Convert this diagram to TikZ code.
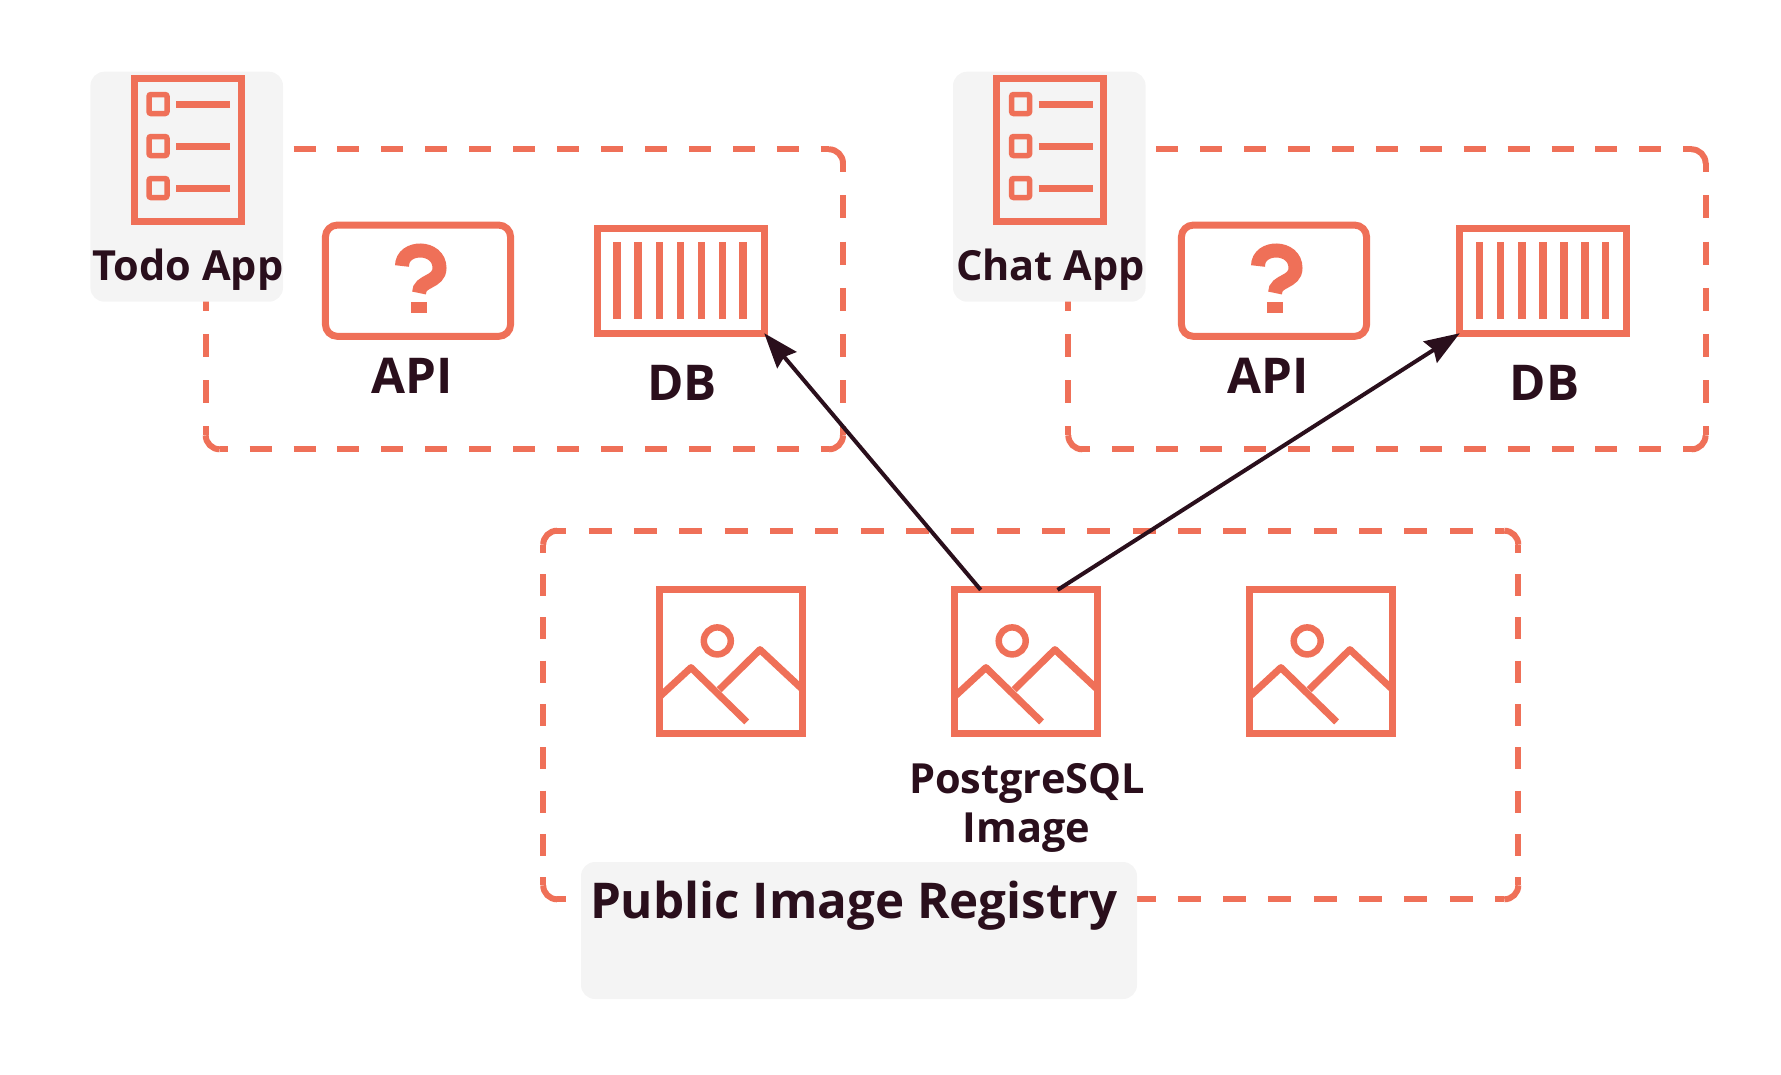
\documentclass[tikz,border=0pt]{standalone}
\usepackage{fontspec}
\setmainfont{Open Sans}
\usepackage{tikz}
\usetikzlibrary{arrows.meta, positioning}
\definecolor{iconorange}{HTML}{EF7058}
\definecolor{darkplum}{HTML}{2A0F1C}
\definecolor{panelgray}{HTML}{F4F4F4}
\tikzset{
    zoneline/.style={draw=iconorange, line width=6pt},
    iconline/.style={draw=iconorange, line width=7pt},
    panel/.style={fill=panelgray, draw=none, rounded corners=14pt, inner sep=0pt, outer sep=0pt},
    iconbox/.style={draw=iconorange, line width=7pt, inner sep=0pt, outer sep=0pt},
    biglabel/.style={text=darkplum, font=\fontsize{49.3}{49.3}\selectfont\bfseries, inner sep=0pt, anchor=base},
    smalllabel/.style={text=darkplum, font=\fontsize{41.5}{49}\selectfont\bfseries, inner sep=0pt, anchor=base},
    pullarrow/.style={draw=darkplum, line width=4pt, -{Stealth[length=35pt,width=25pt,inset=4pt]}}
}
% left, top, right, bottom, then dash and gap of the long and the short sides
\newcommand{\zoneframe}[8]{
    \draw[zoneline, dash pattern=on #5pt off #6pt, dash phase=14pt] (#1+14,#2) -- (#3-14,#2);
    \draw[zoneline, dash pattern=on #5pt off #6pt, dash phase=14pt] (#1+14,#4) -- (#3-14,#4);
    \draw[zoneline, dash pattern=on #7pt off #8pt, dash phase=14pt] (#1,#2+14) -- (#1,#4-14);
    \draw[zoneline, dash pattern=on #7pt off #8pt, dash phase=14pt] (#3,#2+14) -- (#3,#4-14);
    \draw[zoneline, rounded corners=14pt] (#1+14,#2) -- (#1,#2) -- (#1,#2+14);
    \draw[zoneline, rounded corners=14pt] (#3-14,#2) -- (#3,#2) -- (#3,#2+14);
    \draw[zoneline, rounded corners=14pt] (#1+14,#4) -- (#1,#4) -- (#1,#4-14);
    \draw[zoneline, rounded corners=14pt] (#3-14,#4) -- (#3,#4) -- (#3,#4-14);
}
\begin{document}
\begin{tikzpicture}[x=1pt,y=-1pt]
    \useasboundingbox (0,0) rectangle (1781,1074);

    % Application groups
    \foreach \app/\appname/\appx/\dx/\apidx in {todo/Todo App/188/0/0, chat/Chat App/187.9/862.6/856} {
        \begin{scope}[xshift=\dx pt]
            \zoneframe{205.7}{149.3}{843}{449.3}{22}{21.93}{23}{23.17}
            \node[panel, minimum width=192.6pt, minimum height=230pt] (\app-panel) at (186.7,186.7) {};
            % Checklist
            \node[iconbox, minimum width=107pt, minimum height=143pt] (\app-list) at (187.7,149.5) {};
            \foreach \y in {104,146,188} {
                \draw[iconline, line width=5.5pt, rounded corners=2pt] (149,\y-9.5) rectangle (167,\y+9.5);
                \draw[iconline] (176,\y) -- (230,\y);
            }
            \node[smalllabel] (\app-label) at (\appx,280) {\appname};
            % Database container
            \node[iconbox, minimum width=167pt, minimum height=105pt] (\app-db) at (680.7,280.7) {};
            \foreach \x in {617,638,659.5,680.5,701.5,722.5,743} {
                \draw[iconline, line width=7.5pt] (\x,242.3) -- (\x,319);
            }
            \node[biglabel] (\app-dblabel) at (682,400) {DB};
        \end{scope}
        % Service
        \begin{scope}[xshift=\apidx pt]
            \node[iconbox, rounded corners=12pt, minimum width=185.2pt, minimum height=111.3pt] (\app-api) at (418,280.7) {};
            \draw[iconorange, line width=14pt] (402,266) .. controls (402,245) and (439.5,245) .. (439.5,268) .. controls (439.5,283) and (419,280) .. (419,293);
            \fill[iconorange] (410.7,302) rectangle (427,313);
            \node[biglabel] (\app-apilabel) at (412,393.3) {API};
        \end{scope}
    }

    % Registry
    \zoneframe{543.2}{530.7}{1518.3}{899.3}{23}{22.33}{22}{21.3}
    \foreach \img/\ix in {imgone/730.7, imgtwo/1025.6, imgthree/1320.6} {
        \node[iconbox, minimum width=143pt, minimum height=143.6pt] (\img) at (\ix,661.7) {};
        \begin{scope}[shift={(\ix-74.7,586.9)}]
            \draw[iconorange, line width=6.5pt] (61.3,54) circle (13.5);
            \draw[iconorange, line width=7pt, line join=round] (3.3,110) -- (35,80.7) -- (90.7,135);
            \draw[iconorange, line width=7pt, line join=round] (63.3,102.7) -- (104,62.7) -- (145.7,101.7);
        \end{scope}
    }
    \node[smalllabel] (imglabelone) at (1027,793) {PostgreSQL};
    \node[smalllabel] (imglabeltwo) at (1026.5,842.3) {Image};
    \node[panel, minimum width=556pt, minimum height=137pt] (registrypanel) at (859,930.5) {};
    \node[biglabel] (registrylabel) at (854,918.3) {Public Image Registry};

    % Pulls
    \draw[pullarrow] (imgtwo.122) -- (todo-db.south east);
    \draw[pullarrow] (imgtwo.66) -- (chat-db.south west);
\end{tikzpicture}
\end{document}
